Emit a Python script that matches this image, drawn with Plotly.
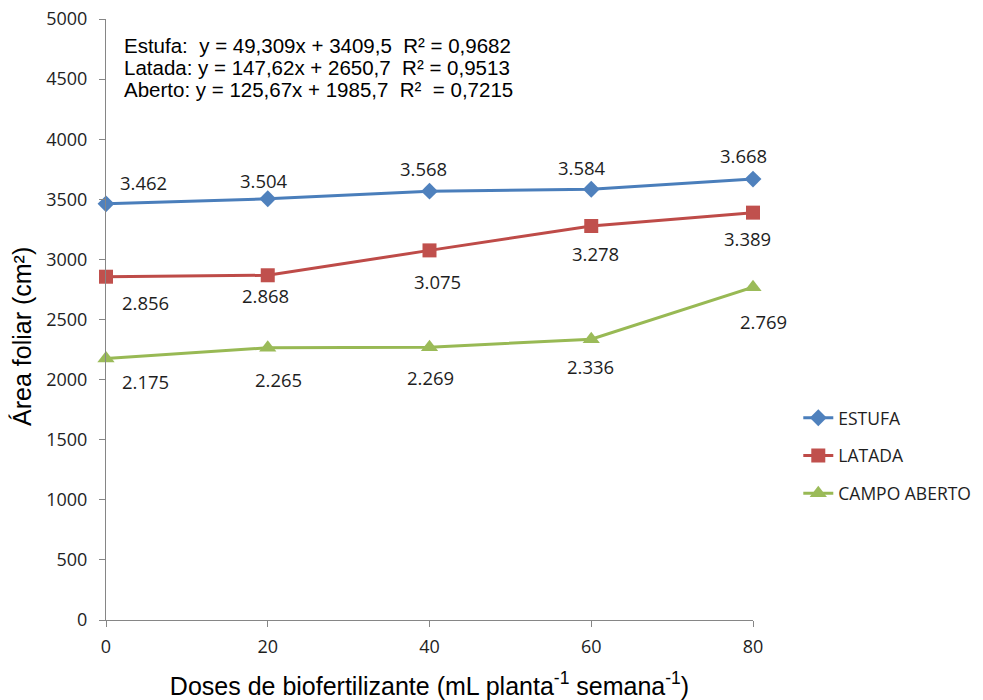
import plotly.graph_objects as go

# Doses of biofertilizer (mL per plant per week)
doses = [0, 20, 40, 60, 80]

# Leaf area (cm²) per growing condition
estufa = [3462, 3504, 3568, 3584, 3668]
latada = [2856, 2868, 3075, 3278, 3389]
campo_aberto = [2175, 2265, 2269, 2336, 2769]

series_names = ["ESTUFA", "LATADA", "CAMPO ABERTO"]

y_ticks = [0, 500, 1000, 1500, 2000, 2500, 3000, 3500, 4000, 4500, 5000]

equations = [
    "Estufa:\u00a0\u00a0y = 49,309x + 3409,5\u00a0\u00a0R² = 0,9682",
    "Latada:\u00a0y = 147,62x + 2650,7\u00a0\u00a0R² = 0,9513",
    "Aberto:\u00a0y = 125,67x + 1985,7\u00a0\u00a0R²\u00a0\u00a0= 0,7215",
]

# Styling per series: (line colour, marker colour, symbol, marker size)
styles = [
    ("#4A7EBB", "#4F81BD", "diamond", 13),
    ("#BE4B48", "#C0504D", "square", 14),
    ("#98B954", "#9BBB59", "triangle-up", 15),
]

# Pixel offsets (dx, dy) of each value label relative to its point
label_offsets = [
    [(37, -21), (-4, -18), (-6, -23), (-9, -22), (-10, -24)],
    [(39, 26), (-2, 20), (8, 31), (4, 28), (-6, 26)],
    [(39, 23), (11, 32), (1, 30), (-1, 27), (10, 34)],
]

label_font = dict(family="Open Sans", size=18.5, color="#1e1e1e")
title_font = dict(family="Liberation Sans, Arial", size=25, color="#000000")
axis_color = "#868686"

fig = go.Figure()

all_series = [estufa, latada, campo_aberto]
for i, (name, values) in enumerate(zip(series_names, all_series)):
    line_c, marker_c, symbol, msize = styles[i]
    fig.add_trace(go.Scatter(
        x=doses, y=values, name=name, mode="lines+markers",
        legendgroup=name,
        line=dict(color=line_c, width=3),
        marker=dict(color=marker_c, symbol=symbol, size=msize,
                    line=dict(width=0)),
        cliponaxis=False,
    ))

# Value labels, thousands separated with a dot
annotations = []
for i, values in enumerate(all_series):
    for j, (xv, yv) in enumerate(zip(doses, values)):
        dx, dy = label_offsets[i][j]
        annotations.append(dict(
            x=xv, y=yv, xref="x", yref="y",
            text=f"{yv:,}".replace(",", "."),
            showarrow=False, xshift=dx, yshift=-dy,
            font=label_font,
        ))

# Regression equations, one line each
eq_rows_y = [0.956, 0.919, 0.882]
for text, ypos in zip(equations, eq_rows_y):
    annotations.append(dict(
        x=0.025, y=ypos, xref="paper", yref="paper",
        xanchor="left", yanchor="middle", align="left",
        text=text, showarrow=False,
        font=dict(family="Liberation Sans, Arial", size=20.5, color="#000000"),
    ))

# Y axis title
annotations.append(dict(
    x=-0.13, y=0.4725, xref="paper", yref="paper",
    xanchor="center", yanchor="middle", textangle=-90,
    text="Área foliar (cm²)", showarrow=False, font=title_font,
))

fig.update_layout(
    width=983, height=700,
    margin=dict(l=106, r=230, t=19, b=80, autoexpand=False),
    paper_bgcolor="white", plot_bgcolor="white",
    annotations=annotations,
    showlegend=True,
    legend=dict(
        x=1.070, y=0.273, xanchor="left", yanchor="middle",
        font=dict(family="Open Sans", size=17.5, color="#1e1e1e"),
        tracegroupgap=12, bgcolor="rgba(0,0,0,0)",
    ),
    xaxis=dict(
        range=[0, 80], tickvals=doses, ticktext=[str(d) for d in doses],
        showgrid=False, zeroline=False, automargin=False,
        showline=True, linecolor=axis_color, linewidth=1,
        ticks="outside", ticklen=6, tickcolor=axis_color,
        ticklabelstandoff=4,
        tickfont=dict(family="Open Sans", size=18, color="#1e1e1e"),
        title=dict(
            text="Doses de biofertilizante (mL planta<sup>-1</sup> semana<sup>-1</sup>)",
            font=title_font, standoff=20,
        ),
    ),
    yaxis=dict(
        range=[0, 5000], tickvals=y_ticks,
        showgrid=False, zeroline=False, automargin=False,
        showline=True, linecolor=axis_color, linewidth=1,
        ticks="outside", ticklen=6, tickcolor=axis_color,
        ticklabelstandoff=8,
        tickfont=dict(family="Open Sans", size=18, color="#1e1e1e"),
    ),
)

fig.write_html("out.html")
